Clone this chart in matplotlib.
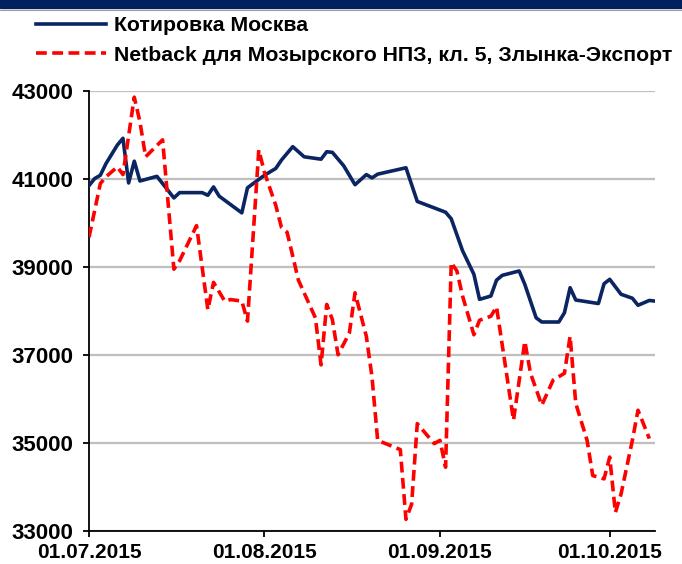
import matplotlib
matplotlib.use("Agg")
import matplotlib.pyplot as plt
import pandas as pd
from matplotlib.patches import Rectangle
from matplotlib.lines import Line2D

start = pd.Timestamp("2015-07-01")

# Котировка Москва: (day offset from 01.07.2015, value)
moscow_days = [0, 1, 2, 3, 5, 6, 7, 8, 9, 12, 15, 16, 20, 21, 22, 23, 27, 28, 30, 31,
               33, 34, 36, 38, 41, 42, 43, 45, 47, 49, 50, 51, 56, 58, 63, 64, 66, 68,
               69, 71, 72, 73, 76, 77, 79, 80, 83, 84, 85, 86, 90, 91, 92, 94, 96, 97,
               99, 100]
moscow_vals = [40850, 41010, 41085, 41350, 41770, 41925, 40910, 41405, 40955, 41060,
               40570, 40690, 40690, 40630, 40820, 40610, 40230, 40800, 40990, 41085,
               41240, 41430, 41735, 41505, 41450, 41620, 41605, 41300, 40870, 41100,
               41025, 41110, 41255, 40490, 40245, 40095, 39370, 38835, 38265, 38340,
               38700, 38810, 38910, 38605, 37845, 37750, 37750, 37960, 38530, 38250,
               38170, 38620, 38720, 38380, 38290, 38130, 38240, 38225]

# Netback для Мозырского НПЗ
netback_days = [0, 2, 3, 5, 6, 8, 9, 10, 13, 15, 16, 19, 21, 22, 24, 25, 27, 28, 30, 31,
                33, 34, 35, 37, 40, 41, 42, 43, 44, 46, 47, 49, 50, 51, 55, 56, 57, 58,
                61, 62, 63, 64, 65, 66, 68, 69, 71, 72, 75, 77, 78, 80, 82, 84, 85, 86,
                88, 89, 91, 92, 93, 94, 96, 97, 99]
netback_vals = [39675, 40895, 41050, 41275, 41100, 42860, 42300, 41505, 41890, 38950,
                39140, 39940, 38030, 38650, 38220, 38260, 38225, 37770, 41660, 41150,
                40400, 39900, 39790, 38700, 37845, 36775, 38150, 37805, 37005, 37500,
                38415, 37425, 36500, 35060, 34850, 33265, 33610, 35440, 34985, 35060,
                34450, 39100, 38910, 38340, 37460, 37790, 37880, 38095, 35520, 37310,
                36585, 35860, 36430, 36585, 37425, 35900, 35060, 34260, 34185, 34680,
                33420, 33840, 35060, 35745, 35100]

series_names = ["Котировка Москва", "Netback для Мозырского НПЗ, кл. 5, Злынка-Экспорт"]
yticks = [33000, 35000, 37000, 39000, 41000, 43000]
xtick_labels = ["01.07.2015", "01.08.2015", "01.09.2015", "01.10.2015"]

moscow_dates = [start + pd.Timedelta(days=d) for d in moscow_days]
netback_dates = [start + pd.Timedelta(days=d) for d in netback_days]
xtick_dates = pd.to_datetime(xtick_labels, format="%d.%m.%Y")

plt.rcParams['font.family'] = ['Liberation Sans', 'DejaVu Sans']
plt.rcParams['font.weight'] = 'bold'

fig = plt.figure(figsize=(6.82, 5.64), dpi=100)
ax = fig.add_axes([89/682, 1-531/564, (655-89)/682, (531-91)/564])

navy = '#0A2562'
red = '#FF0000'
ax.plot(moscow_dates, moscow_vals, color=navy, lw=2.6, solid_joinstyle='round', zorder=3)
ax.plot(netback_dates, netback_vals, color=red, lw=2.6, dashes=(3.0, 1.5), zorder=4)

ax.set_ylim(33000, 43000)
ax.set_xlim(start, start + pd.Timedelta(days=100))
ax.set_yticks(yticks)
ax.set_yticklabels([str(v) for v in yticks])
ax.set_xticks(xtick_dates)
ax.set_xticklabels(xtick_labels)

ax.grid(axis='y', color='#BFBFBF', lw=1.6)
ax.set_axisbelow(True)
for s in ['top', 'right']:
    ax.spines[s].set_visible(False)
for s in ['left', 'bottom']:
    ax.spines[s].set_linewidth(1.3)
    ax.spines[s].set_color('black')
ax.tick_params(axis='y', length=4, width=1.3, pad=7, labelsize=16)
ax.tick_params(axis='x', length=4, width=1.3, pad=5, labelsize=15)
for lab in ax.get_xticklabels() + ax.get_yticklabels():
    lab.set_fontweight('bold')

# top banner
fig.patches.append(Rectangle((0, 1-8/564), 1, 8/564, transform=fig.transFigure,
                             color='#002060', zorder=0))
fig.add_artist(Line2D([0, 1], [1-9.5/564, 1-9.5/564], color='#A0A0A0', lw=0.8,
                      transform=fig.transFigure))

handles = [Line2D([], [], color=navy, lw=2.6),
           Line2D([], [], color=red, lw=2.6, dashes=(3.0, 1.5))]
leg = fig.legend(handles, series_names, loc='upper left',
                 bbox_to_anchor=(32/682, 1-12/564), frameon=False,
                 handlelength=3.3, handletextpad=0.35, labelspacing=0.5,
                 prop={'family': 'Liberation Sans', 'weight': 'bold', 'size': 15.3},
                 borderaxespad=0, borderpad=0.2)

fig.savefig("out.png", dpi=100)
